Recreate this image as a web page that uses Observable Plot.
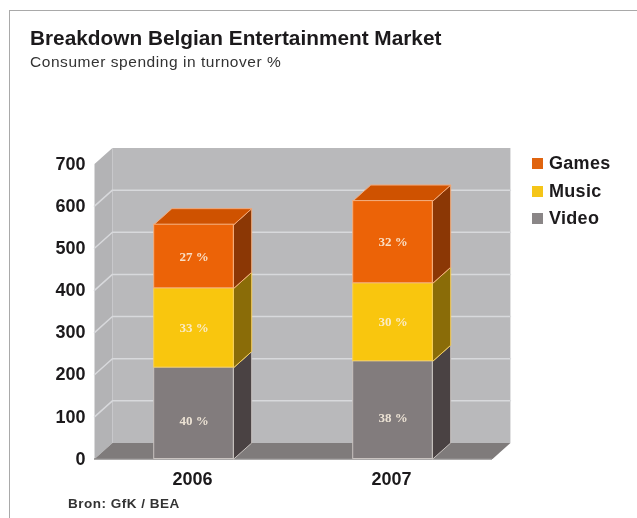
<!DOCTYPE html>
<html><head><meta charset="utf-8">
<script src="https://cdn.jsdelivr.net/npm/d3@7"></script>
<script src="https://cdn.jsdelivr.net/npm/@observablehq/plot@0.6"></script>
<style>
html,body{margin:0;background:#fff}
#wrap{position:relative;width:637px;height:518px;overflow:hidden;font-family:"Liberation Sans",Arial,sans-serif;filter:blur(.6px)}
#frame{position:absolute;left:9px;top:10px;width:640px;height:520px;border-left:1.5px solid #a9a9a9;border-top:1.5px solid #a9a9a9}
.t{position:absolute;white-space:nowrap;color:#1c1a1c}
#title{left:30px;top:26px;font-size:20.8px;font-weight:700;line-height:24px}
#sub{left:30px;top:54px;font-size:15.5px;letter-spacing:.55px;color:#333;line-height:16px}
#src{left:68px;top:497px;font-size:13.5px;letter-spacing:.5px;font-weight:700;color:#333;line-height:14px}
.sw{position:absolute;left:532px;width:11px;height:11px}
.lg{left:549px;font-size:18px;font-weight:700;line-height:20px;letter-spacing:.3px}
#chart{position:absolute;left:0;top:0}
</style></head><body>
<div id="wrap"><div id="chart"></div><div id="frame"></div>
<div class="t" id="title">Breakdown Belgian Entertainment Market</div>
<div class="t" id="sub">Consumer spending in turnover %</div>
<div class="t" id="src">Bron: GfK / BEA</div>
<div id="legend"></div></div>
<script>
const years = ["2006", "2007"];
const seriesNames = ["Video", "Music", "Games"];
const video = [217, 232];
const music = [188, 185];
const games = [151, 195];
const videoPct = [40, 38];
const musicPct = [33, 30];
const gamesPct = [27, 32];
const yTicks = [0, 100, 200, 300, 400, 500, 600, 700];

// styling and projection constants
const frontColor = {Video: "#827c7d", Music: "#f9c60e", Games: "#ec6307"};
const sideColor = {Video: "#4a4243", Music: "#8a6c08", Games: "#8b3705"};
const topColor = "#cf5200";
const legendColor = {Games: "#e0640f", Music: "#f5c518", Video: "#8a8687"};
const edge = {Video: "#c9c3c0", Music: "#f6cf5c", Games: "#f4b080"};
const dx = 0.09, dy = 38, half = 0.2;
const labelNudge = {Video: 8, Music: 0, Games: 0};

const values = {Video: video, Music: music, Games: games};
const pcts = {Video: videoPct, Music: musicPct, Games: gamesPct};
const segs = [];
years.forEach((yr, i) => {
  let base = 0;
  seriesNames.forEach(s => {
    segs.push({i, s, y1: base, y2: base + values[s][i], pct: pcts[s][i]});
    base += values[s][i];
  });
});
const poly = (id, fill, pts) => pts.map(([x, y]) => ({id, fill, x, y}));
const x0 = -0.5, x1 = 1.5;

const wallPts = [
  ...poly("left", "#b3b3b5", [[x0, 0], [x0 + dx, dy], [x0 + dx, 700 + dy], [x0, 700]]),
  ...poly("back", "#b9b9bb", [[x0 + dx, dy], [x1 + dx, dy], [x1 + dx, 700 + dy], [x0 + dx, 700 + dy]]),
  ...poly("floor", "#7f7b7b", [[x0, 0], [x1, 0], [x1 + dx, dy], [x0 + dx, dy]])
];
const gridPts = yTicks.slice(1, -1).flatMap(v =>
  poly("g" + v, "none", [[x0, v], [x0 + dx, v + dy], [x1 + dx, v + dy]]));
const sidePts = segs.flatMap((d, n) => poly("s" + n, sideColor[d.s], [
  [d.i + half, d.y1], [d.i + half + dx, d.y1 + dy], [d.i + half + dx, d.y2 + dy], [d.i + half, d.y2]
]).map(p => ({...p, edge: edge[d.s]})));
const topPts = years.flatMap((yr, i) => {
  const t = video[i] + music[i] + games[i];
  return poly("t" + i, topColor, [[i - half, t], [i + half, t], [i + half + dx, t + dy], [i - half + dx, t + dy]]);
});

const plot = Plot.plot({
  width: 637, height: 518,
  marginLeft: 94, marginRight: 145, marginTop: 163.5, marginBottom: 59.5,
  style: {background: "transparent", overflow: "visible", fontFamily: "'Liberation Sans',Arial,sans-serif", color: "#1c1a1c"},
  x: {domain: [x0, x1], axis: null},
  y: {domain: [0, 700], axis: null},
  marks: [
    Plot.line(wallPts, {x: "x", y: "y", z: "id", fill: "fill", stroke: "none", curve: "linear-closed"}),
    Plot.line(gridPts, {x: "x", y: "y", z: "id", stroke: "#d8d9dc", strokeWidth: 1.5, curve: "linear"}),
    Plot.ruleY([0], {x1: x0, x2: x1, stroke: "#8f8d8d", strokeWidth: 1.5}),
    Plot.line(sidePts, {x: "x", y: "y", z: "id", fill: "fill", stroke: "edge", strokeWidth: 1, curve: "linear-closed"}),
    Plot.line(topPts, {x: "x", y: "y", z: "id", fill: "fill", stroke: "#f4a878", strokeWidth: 1, curve: "linear-closed"}),
    Plot.rect(segs, {x1: d => d.i - half, x2: d => d.i + half, y1: "y1", y2: "y2", fill: d => frontColor[d.s], stroke: d => edge[d.s], strokeWidth: 1}),
    Plot.text(segs, {x: d => d.i, y: d => (d.y1 + d.y2) / 2 - labelNudge[d.s] / 0.42,
      text: d => d.pct + " %", fill: "#fbf0e0", fillOpacity: 0.88, fontSize: 13, fontWeight: 700, fontFamily: "'Liberation Serif',serif"}),
    Plot.axisY({ticks: yTicks, tickSize: 0, tickPadding: 9, label: null, fontSize: 18, fontWeight: 700}),
    Plot.axisX({ticks: [0, 1], tickFormat: i => years[i], tickSize: 0, tickPadding: 13, label: null, fontSize: 18, fontWeight: 700, dx: -1.5})
  ]
});
document.getElementById("chart").appendChild(plot);

const lg = document.getElementById("legend");
["Games", "Music", "Video"].forEach((s, i) => {
  const y = 158 + i * 27.7;
  const sw = document.createElement("div");
  sw.className = "sw"; sw.style.top = y + "px"; sw.style.background = legendColor[s];
  const tx = document.createElement("div");
  tx.className = "t lg"; tx.style.top = (y - 5) + "px"; tx.textContent = s;
  lg.append(sw, tx);
});
</script>
</body></html>
